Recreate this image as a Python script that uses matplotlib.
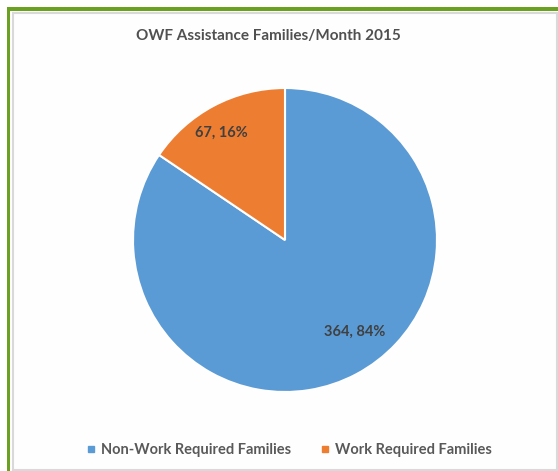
import matplotlib
matplotlib.use("Agg")
import matplotlib.pyplot as plt
import numpy as np
from matplotlib.patches import Rectangle
from matplotlib.lines import Line2D

categories = ["Non-Work Required Families", "Work Required Families"]
values = [364, 67]
percent_labels = ["84%", "16%"]
colors = ["#5B9BD5", "#ED7D31"]
title = "OWF Assistance Families/Month 2015"

W, H = 558, 471
fig = plt.figure(figsize=(W / 100, H / 100), dpi=100)
fig.patch.set_facecolor("white")

def px(x, y, w, h):
    return [x / W, 1 - (y + h) / H, w / W, h / H]

# frame: green outer, gray inner
fig.add_artist(Rectangle((6.5 / W, 0), 3.5 / W, 1 - 7 / H, transform=fig.transFigure,
                         facecolor="#6AA121", edgecolor="none", zorder=-10))
fig.add_artist(Rectangle((6.5 / W, 1 - 10.5 / H), 1, 3.5 / H, transform=fig.transFigure,
                         facecolor="#6AA121", edgecolor="none", zorder=-10))
fig.add_artist(Rectangle((12.5 / W, 1.5 / H), (556.5 - 12.5) / W, (470 - 13) / H,
                         transform=fig.transFigure, facecolor="#FEFEFE",
                         edgecolor="#D9D9D9", linewidth=1.5, zorder=-9))

cx, cy, r = 285, 240, 152
ax = fig.add_axes(px(cx - r, cy - r, 2 * r, 2 * r))
ax.set_zorder(5)
ax.patch.set_visible(False)
wedges, _ = ax.pie(values, colors=colors, startangle=90, counterclock=False,
                   radius=1, wedgeprops=dict(edgecolor="white", linewidth=1.5))
ax.set_xlim(-1, 1)
ax.set_ylim(-1, 1)
ax.axis("off")

dists = [0.76, 0.82]
angle_shift = [9, 2.5]
for w, v, p, d, s in zip(wedges, values, percent_labels, dists, angle_shift):
    mid = np.deg2rad((w.theta1 + w.theta2) / 2 + s)
    ax.text(d * np.cos(mid), d * np.sin(mid), f"{v}, {p}", ha="center", va="center",
            fontsize=10.5, fontweight="bold", color="#404040", family="Lato")

fig.text(268 / W, 1 - 36 / H, title, ha="center", va="center", fontsize=11,
         fontweight="bold", color="#505050", family="Lato")

handles = [Line2D([], [], marker="s", linestyle="none", markersize=5,
                  markerfacecolor=c, markeredgecolor=c) for c in colors]
leg = fig.legend(handles, categories, loc="center", bbox_to_anchor=(289 / W, 1 - 450 / H),
                 ncol=2, frameon=False, handlelength=0.6, handletextpad=0.4,
                 columnspacing=2.0, prop=dict(family="Lato", weight="bold", size=10.5))
for t in leg.get_texts():
    t.set_color("#595959")

fig.savefig("out.png", dpi=100)
